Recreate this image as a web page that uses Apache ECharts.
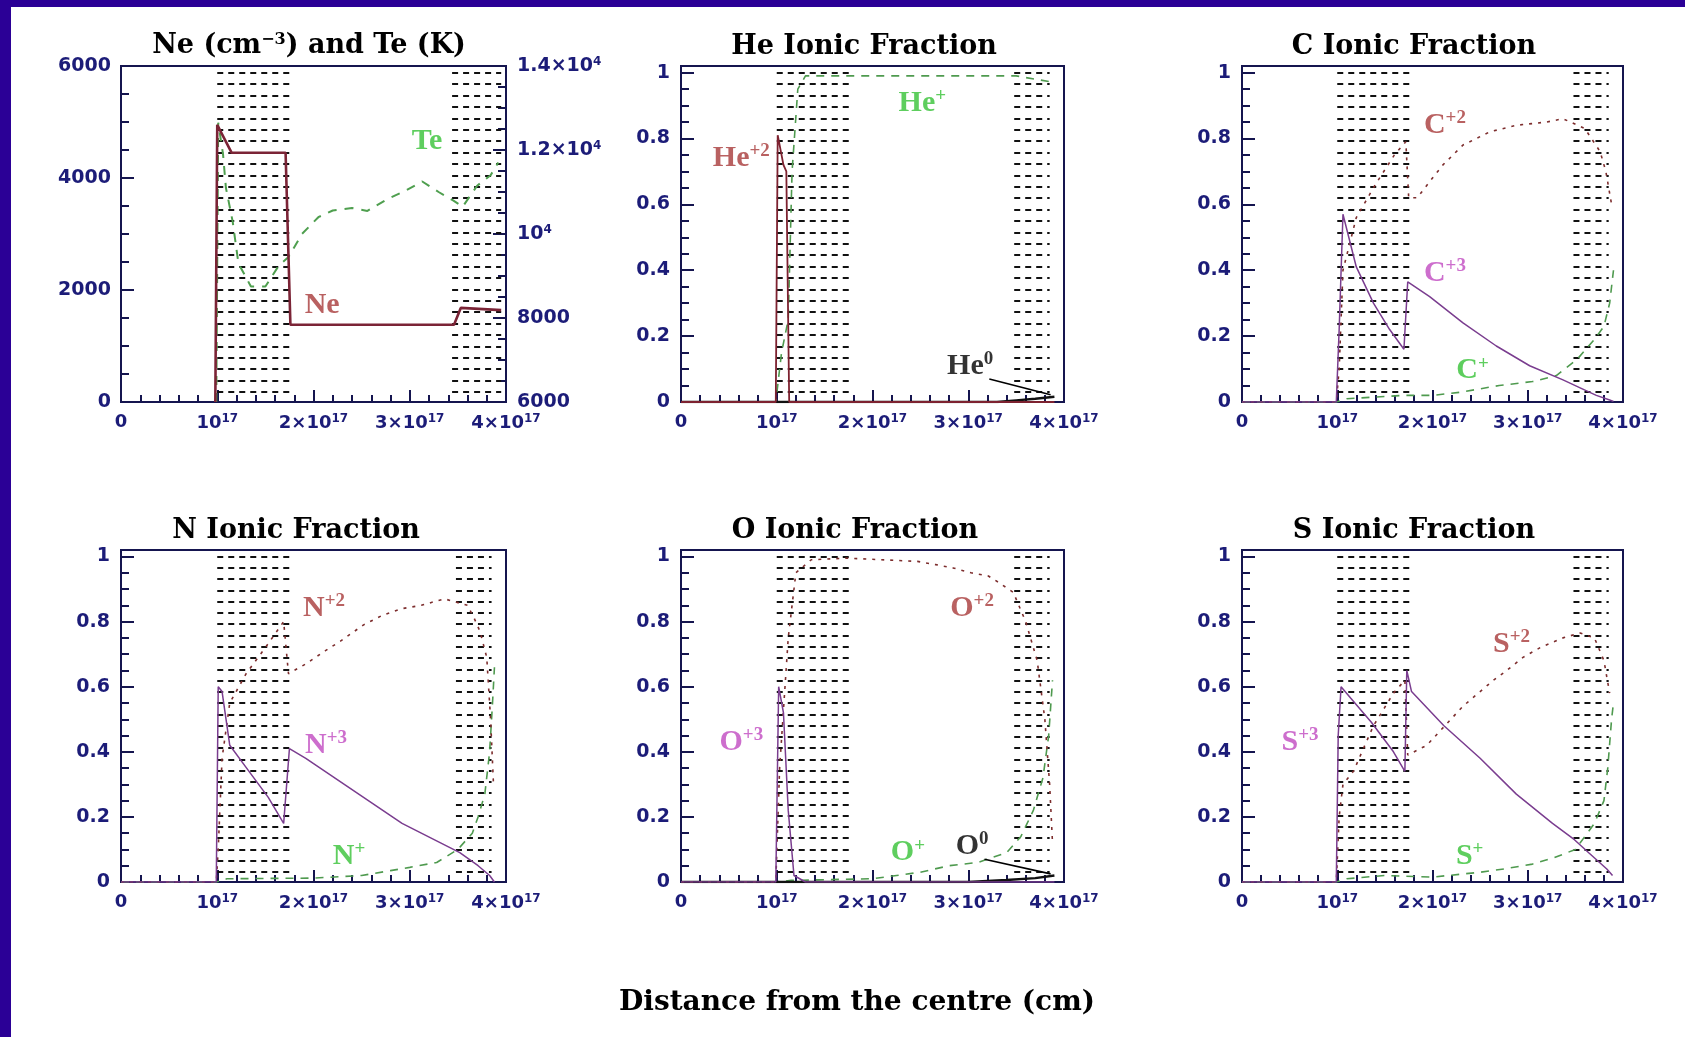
<!DOCTYPE html>
<html>
<head>
<meta charset="utf-8">
<script src="https://cdn.jsdelivr.net/npm/echarts@6/dist/echarts.min.js"></script>
<style>
html, body { margin: 0; padding: 0; background: #fff; }
#main { width: 1685px; height: 1037px; }
</style>
</head>
<body>
<div id="main"></div>
<script>
// distance from the centre, in units of 1e17 cm
var xTicks = ['0', '10{s|17}', '2×10{s|17}', '3×10{s|17}', '4×10{s|17}'];
var neTicks = ['0', '2000', '4000', '6000'];
var teTicks = ['6000', '8000', '10{s|4}', '1.2×10{s|4}', '1.4×10{s|4}'];
var fracTicks = ['0', '0.2', '0.4', '0.6', '0.8', '1'];

// Ne (cm-3) and Te (K)
var ne = [[0.98,0],[1.0,4950],[1.15,4450],[1.71,4450],[1.76,1380],[3.46,1380],[3.53,1680],[3.95,1640]];
var te = [[0.99,6000],[1.01,12650],[1.06,11900],[1.09,11100],[1.16,10300],[1.22,9300],[1.35,8750],[1.5,8750],
          [1.64,9250],[1.74,9450],[1.88,10000],[2.05,10400],[2.2,10560],[2.4,10620],[2.56,10550],[2.76,10820],
          [2.97,11050],[3.13,11250],[3.3,11000],[3.45,10800],[3.55,10650],[3.7,11150],[3.84,11400],[3.92,11700]];

// ionic fractions
var heP2 = [[0,0],[0.99,0],[1.01,0.81],[1.07,0.72],[1.1,0.7],[1.13,0],[3.9,0]];
var heP1 = [[0,0],[0.99,0],[1.05,0.15],[1.12,0.25],[1.16,0.7],[1.22,0.95],[1.3,0.99],[3.5,0.99],[3.9,0.97]];
var heP0 = [[0,0],[3.3,0],[3.5,0.005],[3.7,0.01],[3.9,0.016]];

var cP3 = [[0,0],[0.99,0],[1.02,0.22],[1.06,0.57],[1.2,0.41],[1.38,0.3],[1.55,0.22],[1.7,0.16],[1.74,0.365],[1.97,0.32],
           [2.32,0.24],[2.67,0.17],[3.02,0.11],[3.37,0.067],[3.55,0.043],[3.72,0.02],[3.86,0.006],[3.9,0.002]];
var cP2 = [[0,0],[0.99,0],[1.02,0.1],[1.06,0.4],[1.2,0.56],[1.4,0.66],[1.6,0.75],[1.72,0.79],[1.75,0.62],[1.84,0.62],
           [2.0,0.68],[2.11,0.72],[2.32,0.78],[2.6,0.82],[2.88,0.84],[3.2,0.85],[3.37,0.86],[3.6,0.83],[3.76,0.76],[3.82,0.7],[3.88,0.6]];
var cP1 = [[0,0],[0.99,0],[1.1,0.01],[1.7,0.02],[2.0,0.02],[2.3,0.03],[2.7,0.05],[3.05,0.062],[3.3,0.08],[3.52,0.13],
           [3.7,0.19],[3.8,0.23],[3.86,0.3],[3.9,0.4]];

var nP3 = [[0,0],[0.99,0],[1.01,0.6],[1.05,0.585],[1.13,0.42],[1.33,0.34],[1.53,0.26],[1.69,0.18],[1.75,0.41],[1.92,0.38],
           [2.12,0.34],[2.32,0.3],[2.52,0.26],[2.72,0.22],[2.92,0.18],[3.12,0.15],[3.32,0.12],[3.52,0.09],[3.71,0.05],[3.83,0.02],[3.88,0]];
var nP2 = [[0,0],[0.99,0],[1.01,0.1],[1.05,0.38],[1.13,0.55],[1.3,0.64],[1.5,0.72],[1.69,0.8],[1.74,0.64],[1.92,0.67],
           [2.12,0.71],[2.28,0.74],[2.52,0.79],[2.72,0.82],[2.92,0.84],[3.12,0.85],[3.36,0.87],[3.6,0.85],[3.67,0.81],
           [3.73,0.77],[3.8,0.69],[3.84,0.5],[3.87,0.3]];
var nP1 = [[0,0],[0.99,0],[1.1,0.01],[2.0,0.012],[2.5,0.02],[2.8,0.035],[3.0,0.045],[3.28,0.06],[3.5,0.1],[3.65,0.15],
           [3.71,0.2],[3.78,0.27],[3.83,0.4],[3.86,0.55],[3.88,0.66]];

var oP3 = [[0,0],[0.99,0],[1.02,0.6],[1.07,0.52],[1.12,0.22],[1.18,0.02],[1.3,0],[3.9,0]];
var oP2 = [[0,0],[0.99,0],[1.03,0.35],[1.12,0.75],[1.2,0.95],[1.36,0.99],[1.73,0.995],[2.47,0.985],[2.66,0.975],[2.84,0.965],
           [3.03,0.95],[3.21,0.94],[3.32,0.92],[3.47,0.89],[3.6,0.8],[3.72,0.68],[3.8,0.5],[3.85,0.3],[3.88,0.12]];
var oP1 = [[0,0],[0.99,0],[1.15,0.005],[2.0,0.01],[2.5,0.03],[2.8,0.05],[3.1,0.06],[3.4,0.09],[3.55,0.14],[3.68,0.22],
           [3.78,0.32],[3.84,0.45],[3.88,0.62]];
var oP0 = [[0,0],[3.0,0],[3.4,0.006],[3.7,0.012],[3.9,0.02]];

var sP3 = [[0,0],[0.99,0],[1.01,0.45],[1.04,0.6],[1.14,0.565],[1.36,0.49],[1.59,0.4],[1.71,0.34],[1.73,0.65],[1.78,0.585],
           [2.12,0.48],[2.5,0.38],[2.88,0.27],[3.26,0.18],[3.49,0.13],[3.64,0.09],[3.83,0.04],[3.89,0.02]];
var sP2 = [[0,0],[0.99,0],[1.02,0.2],[1.06,0.3],[1.17,0.34],[1.38,0.48],[1.59,0.58],[1.71,0.62],[1.74,0.39],[1.94,0.42],
           [2.32,0.54],[2.64,0.62],[2.78,0.65],[2.95,0.69],[3.13,0.72],[3.37,0.75],[3.55,0.765],[3.7,0.75],[3.8,0.68],[3.86,0.58]];
var sP1 = [[0,0],[0.99,0],[1.1,0.01],[1.5,0.02],[2.0,0.015],[2.5,0.03],[2.75,0.04],[3.05,0.055],[3.28,0.075],[3.5,0.1],
           [3.7,0.18],[3.8,0.25],[3.84,0.35],[3.88,0.5],[3.9,0.55]];

// shaded (hatched) zones, x ranges
var bandsNeTe = [[1.0, 1.78], [3.44, 3.95]];
var bandsIon = [[1.0, 1.8], [3.48, 3.85]];

// label pointers for the neutral species
var heLeader = [[3.22, 0.07], [3.86, 0.022]];
var oLeader = [[3.17, 0.07], [3.86, 0.025]];

var RED = '#a83a3a', GREEN = '#36c236', MAG = '#c04ac0', BLACK = '#000';

var titles = ['Ne (cm{s|−3}) and Te (K)', 'He Ionic Fraction', 'C Ionic Fraction',
              'N Ionic Fraction', 'O Ionic Fraction', 'S Ionic Fraction'];

var panels = [
  null,
  {lines: [[heP1, 'p1'], [heP0, 'p0'], [heP2, 'p2s']],
   labels: [[0.63, 0.74, 'He{s|+2}', RED], [2.52, 0.907, 'He{s|+}', GREEN], [3.02, 0.11, 'He{s|0}', BLACK]],
   leader: heLeader},
  {lines: [[cP1, 'p1'], [cP2, 'p2'], [cP3, 'p3']],
   labels: [[2.13, 0.84, 'C{s|+2}', RED], [2.13, 0.39, 'C{s|+3}', MAG], [2.42, 0.095, 'C{s|+}', GREEN]]},
  {lines: [[nP1, 'p1'], [nP2, 'p2'], [nP3, 'p3']],
   labels: [[2.11, 0.84, 'N{s|+2}', RED], [2.13, 0.42, 'N{s|+3}', MAG], [2.37, 0.08, 'N{s|+}', GREEN]]},
  {lines: [[oP1, 'p1'], [oP0, 'p0'], [oP2, 'p2'], [oP3, 'p3']],
   labels: [[3.04, 0.84, 'O{s|+2}', RED], [0.63, 0.43, 'O{s|+3}', MAG], [2.37, 0.09, 'O{s|+}', GREEN], [3.04, 0.11, 'O{s|0}', BLACK]],
   leader: oLeader},
  {lines: [[sP1, 'p1'], [sP2, 'p2'], [sP3, 'p3']],
   labels: [[2.83, 0.73, 'S{s|+2}', RED], [0.61, 0.43, 'S{s|+3}', MAG], [2.39, 0.08, 'S{s|+}', GREEN]]}
];

var grids = [
  {left: 121, top: 66, width: 385, height: 336},
  {left: 681, top: 66, width: 383, height: 336},
  {left: 1242, top: 66, width: 381, height: 336},
  {left: 121, top: 550, width: 385, height: 332},
  {left: 681, top: 550, width: 383, height: 332},
  {left: 1242, top: 550, width: 381, height: 332}
];
var titlePos = [[309, 46], [864, 47], [1414, 47], [296, 531], [855, 531], [1414, 531]];

var FRAME = '#15154f', NAVY = '#1c1c78';
var lineStyles = {
  p3: {color: '#7a3d8f', width: 1.5, type: 'solid'},
  p2: {color: '#7d2d2d', width: 1.6, type: [3, 6]},
  p2s: {color: '#7d2230', width: 1.8, type: 'solid'},
  p1: {color: '#4f9a4f', width: 1.6, type: [8, 7]},
  p0: {color: '#111', width: 2.4, type: 'solid'}
};

var labelFont = {fontFamily: 'DejaVu Sans', fontWeight: 'bold', fontSize: 19, color: NAVY};
var supRich = {s: {fontFamily: 'DejaVu Sans', fontWeight: 'bold', fontSize: 12, color: NAVY, padding: [0, 0, 9, 0]}};

var chart = echarts.init(document.getElementById('main'), null, {renderer: 'canvas'});

var xAxes = [], yAxes = [], series = [], titleList = [];

for (var i = 0; i < 6; i++) {
  grids[i].show = true;
  grids[i].borderColor = FRAME;
  grids[i].borderWidth = 2;
  grids[i].backgroundColor = 'transparent';
  grids[i].containLabel = false;
  grids[i].outerBoundsMode = 'none';

  xAxes.push({
    type: 'value', gridIndex: i, min: 0, max: 4, interval: 1,
    axisLine: {show: true, onZero: false, lineStyle: {color: FRAME, width: 2}},
    axisTick: {show: true, inside: true, length: 12, lineStyle: {color: FRAME, width: 2}},
    minorTick: {show: true, splitNumber: 5, length: 7, lineStyle: {color: FRAME, width: 2}},
    splitLine: {show: false}, minorSplitLine: {show: false},
    axisLabel: Object.assign({margin: 11, showMinLabel: true, showMaxLabel: true, rich: supRich,
      formatter: function (v) { return xTicks[Math.round(v)] || ''; }}, labelFont, {fontSize: 18})
  });

  if (i === 0) {
    yAxes.push({
      type: 'value', gridIndex: 0, position: 'left', min: 0, max: 6000, interval: 2000,
      axisLine: {show: true, onZero: false, lineStyle: {color: FRAME, width: 2}},
      axisTick: {show: true, inside: true, length: 13, lineStyle: {color: FRAME, width: 2}},
      minorTick: {show: true, splitNumber: 4, length: 8, lineStyle: {color: FRAME, width: 2}},
      splitLine: {show: false}, minorSplitLine: {show: false},
      axisLabel: Object.assign({margin: 10, showMinLabel: true, showMaxLabel: true,
        formatter: function (v) { return neTicks[Math.round(v / 2000)] || ''; }}, labelFont)
    });
    yAxes.push({
      type: 'value', gridIndex: 0, position: 'right', min: 6000, max: 14000, interval: 2000,
      axisLine: {show: true, onZero: false, lineStyle: {color: FRAME, width: 2}},
      axisTick: {show: true, inside: true, length: 13, lineStyle: {color: FRAME, width: 2}},
      minorTick: {show: true, splitNumber: 4, length: 8, lineStyle: {color: FRAME, width: 2}},
      splitLine: {show: false}, minorSplitLine: {show: false},
      axisLabel: Object.assign({margin: 11, showMinLabel: true, showMaxLabel: true, rich: supRich,
        formatter: function (v) { return teTicks[Math.round((v - 6000) / 2000)] || ''; }}, labelFont)
    });
  } else {
    yAxes.push({
      type: 'value', gridIndex: i, position: 'left', min: 0, max: 1.02, interval: 0.2,
      axisLine: {show: true, onZero: false, lineStyle: {color: FRAME, width: 2}},
      axisTick: {show: true, inside: true, length: 13, lineStyle: {color: FRAME, width: 2}},
      splitLine: {show: false},
      axisLabel: Object.assign({margin: 11, showMinLabel: true, showMaxLabel: true,
        formatter: function (v) {
          var k = Math.round(v / 0.2);
          return Math.abs(v - k * 0.2) < 1e-6 ? (fracTicks[k] || '') : '';
        }}, labelFont)
    });
    yAxes.push({
      type: 'value', gridIndex: i, position: 'left', min: 0, max: 1.02, interval: 0.05,
      axisLine: {show: false},
      axisTick: {show: true, inside: true, length: 8, lineStyle: {color: FRAME, width: 2}},
      splitLine: {show: false}, axisLabel: {show: false}
    });
  }

  titleList.push({
    text: titles[i], left: titlePos[i][0], top: titlePos[i][1], padding: 0,
    textAlign: 'center', textVerticalAlign: 'middle',
    textStyle: {fontFamily: 'DejaVu Serif', fontWeight: 'bold', fontSize: 27, color: '#000',
      rich: {s: {fontFamily: 'DejaVu Serif', fontWeight: 'bold', fontSize: 16, color: '#000', padding: [0, 0, 12, 0]}}}
  });

  // hatched zones: rows of short dashes
  var bands = i === 0 ? bandsNeTe : bandsIon;
  var ymax = i === 0 ? 6000 : 1.02;
  var rows = [];
  for (var b = 0; b < bands.length; b++) {
    for (var k = 0; k < 29; k++) {
      var yy = ymax * (0.03 + k * 0.95 / 28);
      rows.push({coords: [[bands[b][0], yy], [bands[b][1], yy]]});
    }
  }
  series.push({
    type: 'lines', coordinateSystem: 'cartesian2d', xAxisIndex: i, yAxisIndex: 2 * i,
    polyline: false, silent: true, z: 2, animation: false,
    lineStyle: {color: '#111', width: 2.2, type: [6, 5], opacity: 1, curveness: 0},
    data: rows
  });
}

var hidden = {color: 'rgba(0,0,0,0)'};

// panel 1: Ne and Te
series.push({type: 'line', xAxisIndex: 0, yAxisIndex: 1, data: te, symbol: 'none', showSymbol: false, z: 3,
  silent: true, lineStyle: {color: '#4f9f4f', width: 2, type: [9, 8]}});
series.push({type: 'line', xAxisIndex: 0, yAxisIndex: 0, data: ne, symbol: 'none', showSymbol: false, z: 4,
  silent: true, lineStyle: {color: '#7b2436', width: 2.6}});
series.push({type: 'scatter', xAxisIndex: 0, yAxisIndex: 0, symbolSize: 2, itemStyle: hidden, silent: true, z: 5,
  label: {show: true, position: 'inside', fontFamily: 'Liberation Serif', fontWeight: 'bold', fontSize: 30,
    formatter: function (p) { return p.name; }},
  data: [{name: 'Te', value: [3.18, 4650], label: {color: GREEN}},
         {name: 'Ne', value: [2.09, 1730], label: {color: RED}}]});

// ionic fraction panels
for (var j = 1; j < 6; j++) {
  var p = panels[j];
  for (var m = 0; m < p.lines.length; m++) {
    series.push({type: 'line', xAxisIndex: j, yAxisIndex: 2 * j, data: p.lines[m][0], symbol: 'none',
      showSymbol: false, z: 3, silent: true, lineStyle: lineStyles[p.lines[m][1]]});
  }
  if (p.leader) {
    series.push({type: 'lines', coordinateSystem: 'cartesian2d', xAxisIndex: j, yAxisIndex: 2 * j, silent: true, z: 4,
      lineStyle: {color: '#000', width: 1.6, opacity: 1}, data: [{coords: p.leader}]});
  }
  series.push({type: 'scatter', xAxisIndex: j, yAxisIndex: 2 * j, symbolSize: 2, itemStyle: hidden, silent: true, z: 5,
    label: {show: true, position: 'inside', fontFamily: 'Liberation Serif', fontWeight: 'bold', fontSize: 30,
      formatter: function (q) { return q.name; },
      rich: {s: {fontFamily: 'Liberation Serif', fontWeight: 'bold', fontSize: 19, padding: [0, 0, 14, 0]}}},
    data: p.labels.map(function (l) { return {name: l[2], value: [l[0], l[1]], label: {color: l[3]}}; })});
}

titleList.push({
  text: 'Distance from the centre (cm)', left: 857, top: 1003, padding: 0,
  textAlign: 'center', textVerticalAlign: 'middle',
  textStyle: {fontFamily: 'DejaVu Serif', fontWeight: 'bold', fontSize: 28, color: '#000'}
});

chart.setOption({
  backgroundColor: '#fff',
  animation: false,
  title: titleList,
  grid: grids,
  xAxis: xAxes,
  yAxis: yAxes,
  series: series,
  graphic: [
    {type: 'rect', left: 0, top: 0, shape: {width: 1685, height: 7}, style: {fill: '#2b0096'}, silent: true},
    {type: 'rect', left: 0, top: 0, shape: {width: 11, height: 1037}, style: {fill: '#2b0096'}, silent: true}
  ]
});
</script>
</body>
</html>
